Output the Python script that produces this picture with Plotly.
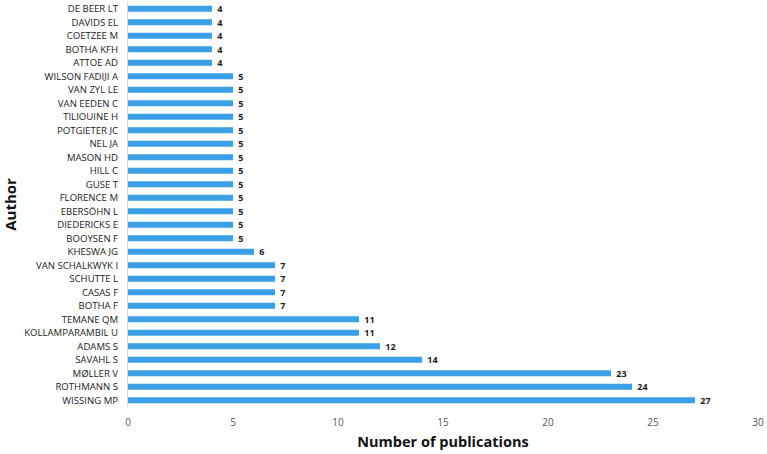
import plotly.graph_objects as go

authors = ["WISSING MP", "ROTHMANN S", "MØLLER V", "SAVAHL S", "ADAMS S",
           "KOLLAMPARAMBIL U", "TEMANE QM", "BOTHA F", "CASAS F", "SCHUTTE L",
           "VAN SCHALKWYK I", "KHESWA JG", "BOOYSEN F", "DIEDERICKS E",
           "EBERSÖHN L", "FLORENCE M", "GUSE T", "HILL C", "MASON HD", "NEL JA",
           "POTGIETER JC", "TILIOUINE H", "VAN EEDEN C", "VAN ZYL LE",
           "WILSON FADIJI A", "ATTOE AD", "BOTHA KFH", "COETZEE M", "DAVIDS EL",
           "DE BEER LT"]
publications = [27, 24, 23, 14, 12, 11, 11, 7, 7, 7, 7, 6, 5, 5, 5, 5, 5, 5, 5,
                5, 5, 5, 5, 5, 5, 4, 4, 4, 4, 4]
x_ticks = [0, 5, 10, 15, 20, 25, 30]

fig = go.Figure(go.Bar(
    x=publications, y=authors, orientation="h",
    marker=dict(color="#3A9FE5", line=dict(width=0)),
    width=0.45,
    texttemplate=" %{x}",
    textposition="outside",
    constraintext="none",
    textfont=dict(family="Open Sans", size=9, color="#222222", weight="bold"),
    cliponaxis=False,
    hoverinfo="skip",
))

fig.update_layout(
    width=767, height=454,
    margin=dict(l=128, r=9, t=2, b=47),
    paper_bgcolor="white", plot_bgcolor="white",
    showlegend=False,
    font=dict(family="Open Sans", color="#333333"),
    bargap=0.55,
)
fig.update_xaxes(
    range=[0, 30], tickvals=x_ticks, showgrid=False, zeroline=False,
    showline=False, tickfont=dict(size=10, color="#555555"),
    title=dict(text="<b>Number of publications</b>", font=dict(size=14.5, color="#111111"), standoff=8),
    ticklen=0, ticklabelstandoff=8, automargin=False,
)
fig.update_yaxes(
    categoryorder="array", categoryarray=authors,
    range=[-0.5, len(authors) - 0.5],
    showgrid=False, zeroline=False,
    showline=True, linecolor="#d9d9d9", linewidth=1,
    tickfont=dict(size=9.6, color="#222222"),
    title=dict(text="<b>Author</b>", font=dict(size=15, color="#111111"), standoff=4),
    ticklen=0, ticklabelstandoff=7, automargin=False,
)

fig.write_html("out.html", config={"displayModeBar": False},
               post_script="document.body.style.margin='0';document.body.style.overflow='hidden';")
